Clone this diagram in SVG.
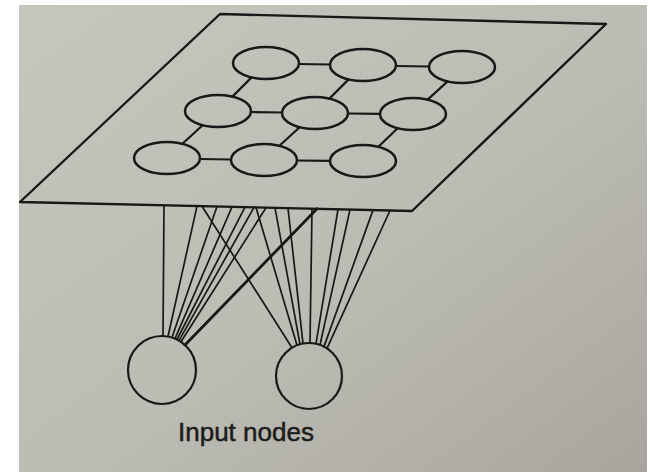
<svg xmlns="http://www.w3.org/2000/svg" width="650" height="472" viewBox="0 0 650 472">
  <defs>
    <linearGradient id="paper" x1="0" y1="0" x2="1" y2="1">
      <stop offset="0" stop-color="#c6c6be"/>
      <stop offset="0.55" stop-color="#bcbcb4"/>
      <stop offset="1" stop-color="#a9a59e"/>
    </linearGradient>
    <style>
      .ink { fill: none; stroke: #181818; stroke-linecap: round; stroke-linejoin: round; }
      .plane { stroke-width: 2.4; }
      .unit { stroke-width: 2.5; }
      .link { stroke-width: 2.2; }
      .wire { stroke-width: 1.7; }
      .wire-bold { stroke-width: 2.8; }
      .input { stroke-width: 2.2; }
      .label { font-family: "Liberation Sans", Arial, Helvetica, sans-serif; font-size: 26px; fill: #1c1c1c; stroke: #1c1c1c; stroke-width: 0.5; }
    </style>
  </defs>

  <!-- page background -->
  <rect x="0" y="0" width="650" height="472" fill="#ffffff"/>
  <rect x="19" y="5" width="628" height="467" fill="url(#paper)"/>

  <!-- output layer plane -->
  <g id="plane">
    <polygon class="ink plane" points="220,14 606,24 412,211 20,202"/>
  </g>

  <!-- lattice links between map units -->
  <g id="lattice-links" class="ink link">
    <line x1="299" y1="64" x2="330" y2="64.5"/>
    <line x1="396" y1="66" x2="429" y2="66.5"/>
    <line x1="251" y1="112" x2="282" y2="112.5"/>
    <line x1="348" y1="113.5" x2="380" y2="113.8"/>
    <line x1="200" y1="159" x2="231" y2="159.5"/>
    <line x1="297" y1="160.5" x2="330" y2="160.8"/>
    <line x1="251.6" y1="77.4" x2="232.4" y2="96.6"/>
    <line x1="348.6" y1="79.4" x2="329.4" y2="98.6"/>
    <line x1="447.6" y1="81.4" x2="427.6" y2="99.6"/>
    <line x1="202.6" y1="125.2" x2="182.4" y2="143.8"/>
    <line x1="299.6" y1="127.2" x2="279.4" y2="145.8"/>
    <line x1="397.6" y1="128.2" x2="378.4" y2="146.8"/>
  </g>

  <!-- map units -->
  <g id="unit-1-1"><ellipse class="ink unit" cx="266" cy="63" rx="33" ry="16"/></g>
  <g id="unit-1-2"><ellipse class="ink unit" cx="363" cy="65" rx="33" ry="16"/></g>
  <g id="unit-1-3"><ellipse class="ink unit" cx="462" cy="67" rx="33" ry="16"/></g>
  <g id="unit-2-1"><ellipse class="ink unit" cx="218" cy="111" rx="33" ry="16"/></g>
  <g id="unit-2-2"><ellipse class="ink unit" cx="315" cy="113" rx="33" ry="16"/></g>
  <g id="unit-2-3"><ellipse class="ink unit" cx="413" cy="114" rx="33" ry="16"/></g>
  <g id="unit-3-1"><ellipse class="ink unit" cx="167" cy="158" rx="33" ry="16"/></g>
  <g id="unit-3-2"><ellipse class="ink unit" cx="264" cy="160" rx="33" ry="16"/></g>
  <g id="unit-3-3"><ellipse class="ink unit" cx="363" cy="161" rx="33" ry="16"/></g>

  <!-- connections from the input nodes up to the plane -->
  <g id="connectors" class="ink">
    <!-- to the left input node -->
    <line class="wire" x1="164" y1="205.3" x2="163" y2="336"/>
    <line class="wire" x1="197" y1="206.1" x2="168" y2="336.5"/>
    <line class="wire" x1="217" y1="206.5" x2="172" y2="337.5"/>
    <line class="wire" x1="232" y1="206.9" x2="175" y2="338.6"/>
    <line class="wire" x1="245" y1="207.2" x2="177" y2="339.5"/>
    <line class="wire" x1="254" y1="207.4" x2="179" y2="340.6"/>
    <line class="wire" x1="266" y1="207.7" x2="181" y2="341.8"/>
    <line class="wire-bold" x1="317" y1="208.8" x2="185" y2="345"/>
    <!-- to the right input node -->
    <line class="wire" x1="202" y1="206.2" x2="292" y2="347.7"/>
    <line class="wire" x1="256" y1="207.4" x2="297" y2="345.3"/>
    <line class="wire" x1="275" y1="207.9" x2="300" y2="344.3"/>
    <line class="wire" x1="288" y1="208.2" x2="303" y2="343.5"/>
    <line class="wire" x1="312" y1="208.7" x2="310" y2="343"/>
    <line class="wire" x1="338" y1="209.3" x2="316" y2="343.8"/>
    <line class="wire" x1="350" y1="209.6" x2="320" y2="344.9"/>
    <line class="wire" x1="373" y1="210.1" x2="324" y2="346.6"/>
    <line class="wire" x1="390" y1="210.5" x2="327" y2="348.3"/>
  </g>

  <!-- input nodes -->
  <g id="input-left"><circle class="ink input" cx="162" cy="370" r="34"/></g>
  <g id="input-right"><circle class="ink input" cx="309" cy="376" r="33"/></g>

  <g id="caption">
    <text class="label" x="178" y="441">Input nodes</text>
  </g>
</svg>
